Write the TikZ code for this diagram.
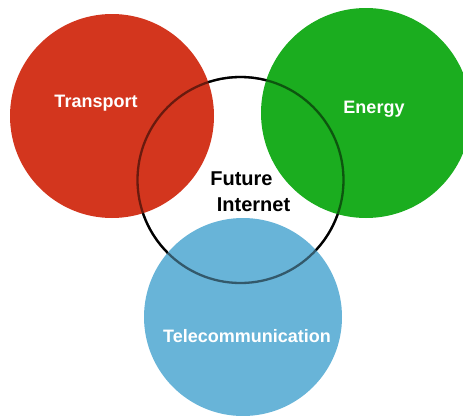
\documentclass[tikz,border=0pt]{standalone}
\usepackage{fontspec}
\setmainfont{Liberation Sans}
\usetikzlibrary{positioning}
\definecolor{transportred}{RGB}{211,54,30}
\definecolor{energygreen}{RGB}{27,173,31}
\definecolor{telecomblue}{RGB}{104,180,216}

\begin{document}
\begin{tikzpicture}[x=1pt,y=-1pt,
  sector/.style={font=\bfseries\fontsize{18}{22}\selectfont,anchor=base,inner sep=0pt},
  hub/.style={sector,font=\bfseries\fontsize{20}{24}\selectfont}]
\useasboundingbox (0,0) rectangle (463,415);
\draw [line width=2.3pt] (240.5,180) circle (103);
\fill [transportred] (112,116) circle (102);
\fill [energygreen] (366,113) circle (105);
\fill [telecomblue] (243,317) circle (99);
\draw [line width=2.3pt,draw opacity=0.5] (240.5,180) circle (103);
\node [sector,white] (transport) at (96,107) {Transport};
\node [sector,white] (energy) at (374,113) {Energy};
\node [sector,white] (telecom) at (247,342) {Telecommunication};
\node [hub] (future) at (241.5,185) {Future};
\node [hub] (internet) at (253.5,211) {Internet};
\end{tikzpicture}
\end{document}
